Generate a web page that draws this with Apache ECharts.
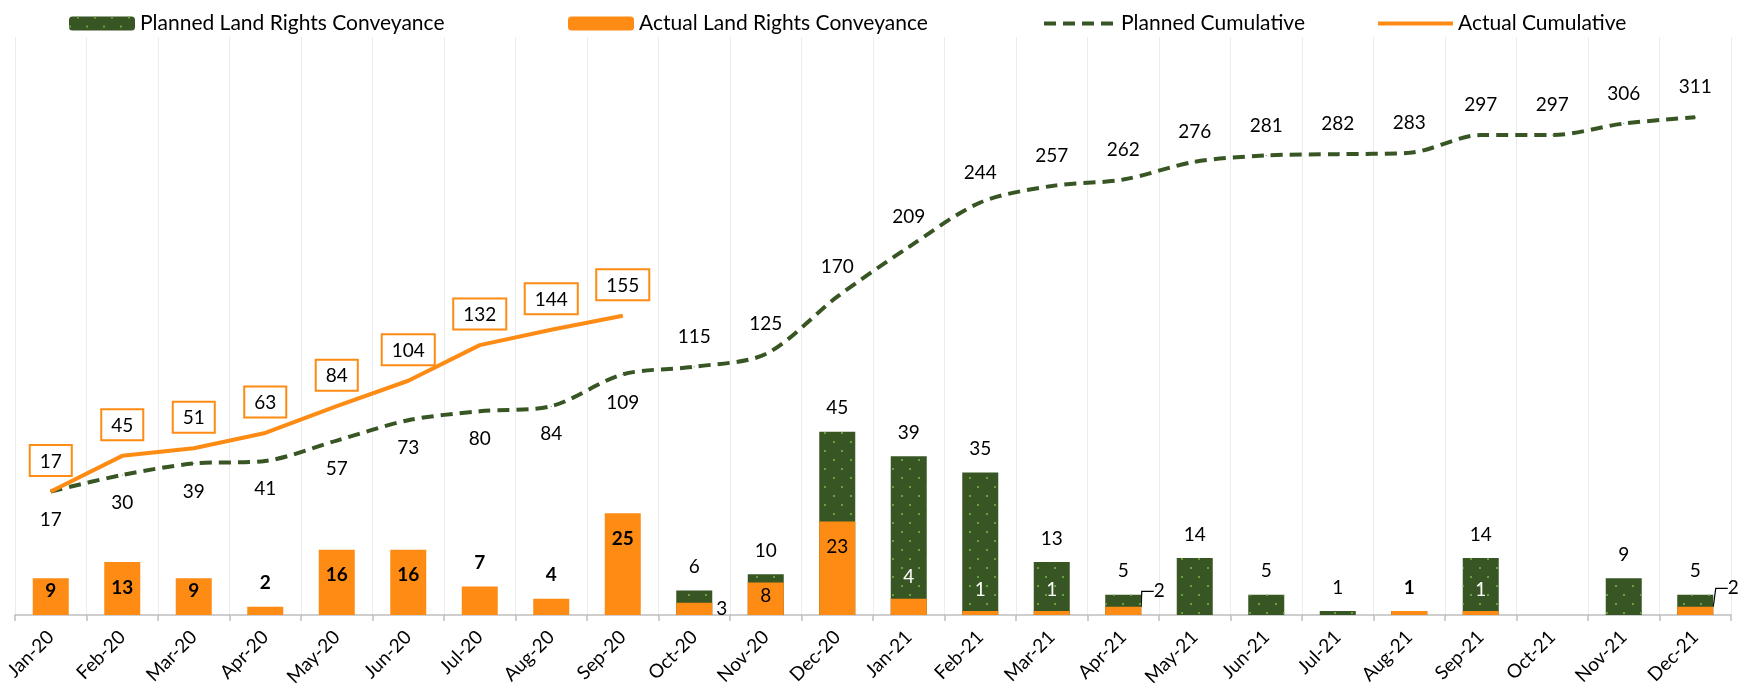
<!DOCTYPE html>
<html>
<head>
<meta charset="utf-8">
<script src="https://cdn.jsdelivr.net/npm/echarts@6/dist/echarts.min.js"></script>
<style>
  html, body { margin: 0; padding: 0; background: #fff; }
  #main { width: 1748px; height: 689px; }
</style>
</head>
<body>
<div id="main"></div>
<script>
const months = ['Jan-20','Feb-20','Mar-20','Apr-20','May-20','Jun-20','Jul-20','Aug-20','Sep-20','Oct-20','Nov-20','Dec-20',
                'Jan-21','Feb-21','Mar-21','Apr-21','May-21','Jun-21','Jul-21','Aug-21','Sep-21','Oct-21','Nov-21','Dec-21'];
const plannedMonthly = [null,null,null,null,null,null,null,null,null,6,10,45,39,35,13,5,14,5,1,1,14,null,9,5];
const actualMonthly = [9,13,9,2,16,16,7,4,25,3,8,23,4,1,1,2,null,null,null,1,1,null,null,2];
const plannedCumulative = [17,30,39,41,57,73,80,84,109,115,125,170,209,244,257,262,276,281,282,283,297,297,306,311];
const actualCumulative = [17,45,51,63,84,104,132,144,155,null,null,null,null,null,null,null,null,null,null,null,null,null,null,null];

const GREEN = '#375623';
const ORANGE = '#fd8b14';
const FONT = 'Lato';

// how each actual bar label sits (Excel placed them by hand)
const insideTopIdx = { 0: 3, 1: 16, 2: 3, 4: 16, 5: 16, 8: 16, 10: 4, 11: 16 };
const whiteIdx = [12, 13, 14, 20];
const leaderIdx = { 15: [36, 8], 23: [38, 5] };

let chart = echarts.init(document.getElementById('main'));

const plannedData = plannedMonthly.map((v, i) => ({
    value: v,
    label: { show: v != null && i !== 19 }
}));

const actualData = actualMonthly.map((v, i) => {
    let item = { value: v, label: { show: v != null } };
    let label = item.label;
    if (insideTopIdx[i] !== undefined) {
        label.position = 'insideTop';
        label.distance = insideTopIdx[i];
    } else if (whiteIdx.includes(i)) {
        label.position = 'top';
        label.distance = 12;
        label.color = '#fff';
    } else if (i === 9) {
        label.position = 'right';
        label.distance = 4;
        label.offset = [0, -13];
    } else if (leaderIdx[i]) {
        label.position = 'top';
        item.labelLine = { show: true };
    }
    if (i >= 9 && i !== 19) label.fontWeight = 'normal';
    return item;
});

const legendText = { fontSize: 21, color: '#000', fontFamily: FONT };

chart.setOption({
    animation: false,
    textStyle: { fontFamily: FONT },
    legend: [
        { left: 64, top: 8, itemWidth: 66, itemHeight: 14, selectedMode: false,
          textStyle: legendText, data: ['Planned Land Rights Conveyance'] },
        { left: 563, top: 8, itemWidth: 66, itemHeight: 14, selectedMode: false,
          textStyle: legendText, data: ['Actual Land Rights Conveyance'] },
        { left: 1037, top: 8, itemWidth: 72, itemHeight: 14, selectedMode: false,
          itemStyle: { opacity: 0 }, lineStyle: { width: 4 },
          textStyle: legendText, data: ['Planned Cumulative'] },
        { left: 1371, top: 8, itemWidth: 75, itemHeight: 14, selectedMode: false,
          itemStyle: { opacity: 0 }, lineStyle: { width: 4 },
          textStyle: legendText, data: ['Actual Cumulative'] }
    ],
    grid: { left: 15, right: 17, top: 37, bottom: 74, outerBoundsMode: 'none', containLabel: false },
    xAxis: {
        type: 'category',
        data: months,
        boundaryGap: true,
        axisLine: { lineStyle: { color: '#bfbfbf', width: 1.5 } },
        axisTick: { show: true, length: 6, lineStyle: { color: '#bfbfbf', width: 1.5 } },
        axisLabel: { rotate: 45, interval: 0, fontSize: 19, color: '#000', margin: 19, fontFamily: FONT },
        splitLine: { show: true, lineStyle: { color: '#ececec', width: 1 } }
    },
    yAxis: [
        { type: 'value', min: 0, max: 142, show: false, splitLine: { show: false } },
        { type: 'value', min: -80, max: 374, show: false, splitLine: { show: false } }
    ],
    series: [
        {
            name: 'Planned Land Rights Conveyance',
            type: 'bar',
            barWidth: 36,
            data: plannedData,
            itemStyle: {
                color: GREEN,
                decal: {
                    symbol: 'rect',
                    symbolSize: 1,
                    color: '#68a03e',
                    dashArrayX: [[1.5, 14.5], [0, 8, 1.5, 6.5]],
                    dashArrayY: [1.5, 6.5],
                    rotation: 0
                }
            },
            label: { position: 'top', distance: 14, fontSize: 19, color: '#000', fontFamily: FONT }
        },
        {
            name: 'Actual Land Rights Conveyance',
            type: 'bar',
            barWidth: 36,
            barGap: '-100%',
            data: actualData,
            itemStyle: { color: ORANGE },
            label: { position: 'top', distance: 14, fontSize: 19, color: '#000', fontWeight: 'bold', fontFamily: FONT },
            labelLayout: function (params) {
                let off = leaderIdx[params.dataIndex];
                if (off) return { dx: off[0], dy: off[1] };
                return {};
            },
            labelLine: { show: false, length2: 12, lineStyle: { color: '#000', width: 1.2 } }
        },
        {
            name: 'Planned Cumulative',
            type: 'line',
            yAxisIndex: 1,
            data: plannedCumulative.map((v, i) => ({
                value: v,
                label: i < 9 ? { position: 'bottom', distance: 18 } : { position: 'top', distance: 20 }
            })),
            smooth: 0.3,
            symbol: 'circle',
            symbolSize: 1,
            itemStyle: { color: GREEN },
            lineStyle: { color: GREEN, width: 4, type: [12, 7] },
            label: { show: true, fontSize: 19, color: '#000', fontFamily: FONT },
            z: 3
        },
        {
            name: 'Actual Cumulative',
            type: 'line',
            yAxisIndex: 1,
            data: actualCumulative,
            symbol: 'circle',
            symbolSize: 1,
            itemStyle: { color: ORANGE },
            lineStyle: { color: ORANGE, width: 4 },
            label: {
                show: true, position: 'top', distance: 16, fontSize: 19, color: '#000', fontFamily: FONT,
                backgroundColor: '#fff', borderColor: ORANGE, borderWidth: 2, padding: [6, 9, 4, 9]
            },
            z: 4
        }
    ]
});
</script>
</body>
</html>
